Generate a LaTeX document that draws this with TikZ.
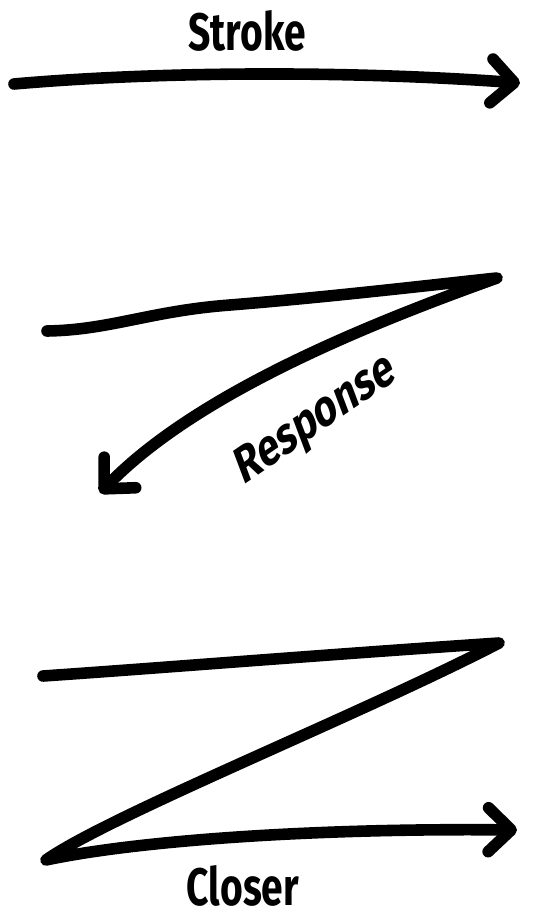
\documentclass[tikz,border=0pt]{standalone}
\usepackage{fontspec}
\setmainfont{Fira Sans}
\usepackage{tikz}
\usetikzlibrary{arrows.meta}
\tikzset{
  stk/.style={draw, line width=6.6pt, line cap=round, line join=round},
  tip/.style={-{Straight Barb[length=13pt, width=25pt, round]}},
  lbl/.style={font=\fontsize{30}{30}\selectfont\bfseries, inner sep=0pt, xscale=0.74}
}
\begin{document}
\begin{tikzpicture}[x=0.02cm, y=-0.02cm]
\useasboundingbox (0,0) rectangle (533,913);
% stroke
\coordinate (s1) at (14,84);
\coordinate (s2) at (520,83);
\draw[stk, tip] (s1) .. controls (150,72) and (340,70) .. (s2);
\node[lbl] (stroke) at (247,31) {Stroke};
% response
\coordinate (r1) at (47,331);
\coordinate (r2) at (497,278);
\coordinate (r3) at (100,493);
\draw[stk, tip] (r1) .. controls (110,330) and (150,311) .. (230,305)
  .. controls (330,297) and (440,284) .. (r2)
  .. controls (380,320) and (200,390) .. (r3);
\node[lbl, rotate=27] (response) at (316,421) {Response};
% closer
\coordinate (c1) at (43,676);
\coordinate (c2) at (499,643);
\coordinate (c3) at (46,860);
\coordinate (c4) at (517,830);
\draw[stk, tip] (c1) .. controls (160,668) and (320,655) .. (c2)
  .. controls (360,715) and (110,815) .. (c3)
  .. controls (140,840) and (320,828) .. (c4);
\node[lbl] (closer) at (243,886) {Closer};
\end{tikzpicture}
\end{document}
